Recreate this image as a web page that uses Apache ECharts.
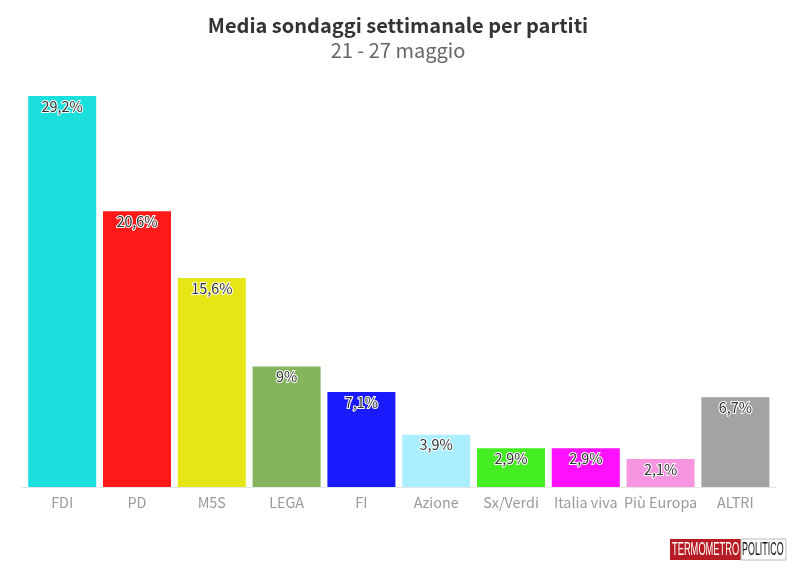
<!DOCTYPE html>
<html lang="it">
<head>
    <meta charset="UTF-8">
    <title>Media sondaggi settimanale per partiti</title>
    <script src="https://cdn.jsdelivr.net/npm/echarts@6/dist/echarts.min.js"></script>
    <style>
        html, body { margin: 0; padding: 0; background: #fff; }
        #main { width: 796px; height: 575px; }
    </style>
</head>
<body>
<div id="main"></div>
<script type="text/javascript">
    const partiti = ['FDI', 'PD', 'M5S', 'LEGA', 'FI', 'Azione', 'Sx/Verdi', 'Italia viva', 'Più Europa', 'ALTRI'];
    const valori = [29.2, 20.6, 15.6, 9, 7.1, 3.9, 2.9, 2.9, 2.1, 6.7];
    const colori = ['#1adfdd', '#ff1a1a', '#e6e617', '#84b55c', '#1a1aff', '#aaeeff', '#44ee22', '#ff11ff', '#f795e0', '#a3a3a3'];

    const font = '"Noto Sans CJK SC", "Noto Sans", sans-serif';
    let myChart = echarts.init(document.getElementById('main'));
    const option = {
        animation: false,
        title: {
            text: 'Media sondaggi settimanale per partiti',
            subtext: '21 - 27 maggio',
            left: 'center',
            top: 10,
            itemGap: 5,
            textStyle: { fontFamily: font, fontSize: 20, fontWeight: 'bold', color: '#333' },
            subtextStyle: { fontFamily: font, fontSize: 20, color: '#666' }
        },
        grid: [
            { left: 24.8, width: 748, top: 85.3, height: 401.7 },
            { left: 22, width: 754, top: 85.3, height: 401.7 }
        ],
        xAxis: [{
            type: 'category',
            data: partiti,
            gridIndex: 0,
            axisLine: { show: false },
            axisTick: { alignWithLabel: true, length: 5, lineStyle: { color: '#e6e6e6' } },
            axisLabel: { interval: 0, margin: 8, fontFamily: font, fontSize: 14.4, color: '#999' }
        }, {
            // solo la linea di base, piu' lunga delle barre
            type: 'category',
            data: [],
            gridIndex: 1,
            axisLine: { lineStyle: { color: '#e6e6e6', width: 1 } },
            axisTick: { show: false },
            axisLabel: { show: false }
        }],
        yAxis: [
            { type: 'value', min: 0, max: 30, show: false, gridIndex: 0 },
            { type: 'value', min: 0, max: 30, show: false, gridIndex: 1 }
        ],
        series: [{
            type: 'bar',
            barWidth: 68,
            data: valori.map((v, i) => ({ value: v, itemStyle: { color: colori[i] } })),
            label: {
                show: true,
                position: 'insideTop',
                distance: 3,
                fontFamily: font,
                fontSize: 14.4,
                color: '#333',
                textBorderColor: '#fff',
                textBorderWidth: 2,
                formatter: p => String(p.value).replace('.', ',') + '%'
            }
        }],
        graphic: [
            { type: 'rect', x: 670, y: 539, shape: { width: 71, height: 21 }, style: { fill: '#b71c24' } },
            { type: 'rect', x: 741, y: 539, shape: { width: 45, height: 21 }, style: { fill: '#fff', stroke: '#bbb', lineWidth: 1 } },
            { type: 'text', x: 672, y: 543, scaleX: 0.49, style: { text: 'TERMOMETRO', fontFamily: '"Liberation Sans"', fontSize: 19, lineHeight: 14, fill: '#fff' } },
            { type: 'text', x: 742, y: 543, scaleX: 0.47, style: { text: 'POLITICO', fontFamily: '"Liberation Sans"', fontSize: 19, lineHeight: 14, fill: '#111' } }
        ]
    };
    myChart.setOption(option);
</script>
</body>
</html>
